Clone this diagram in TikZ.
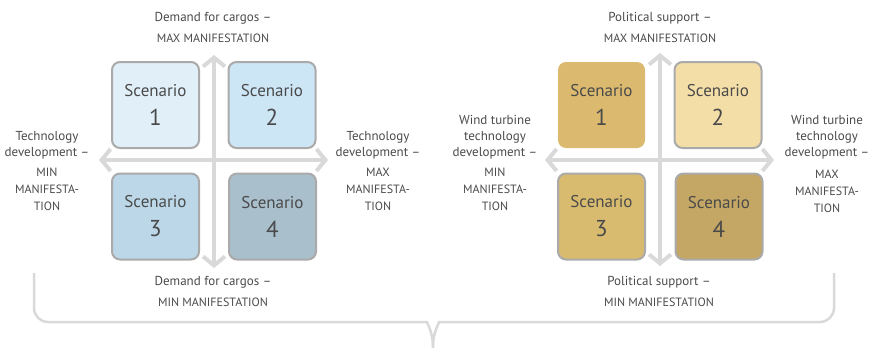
\documentclass[tikz,border=0pt]{standalone}
\usepackage{fontspec}
\setmainfont{PT Sans}
\usetikzlibrary{arrows.meta}
\definecolor{txt}{HTML}{4A4A4A}
\definecolor{axis}{HTML}{D9D9D9}
\definecolor{frame}{HTML}{AAAAAA}
\definecolor{bA}{HTML}{E1EFF8}
\definecolor{bB}{HTML}{CDE6F6}
\definecolor{bC}{HTML}{BCD7E8}
\definecolor{bD}{HTML}{A9BFCC}
\definecolor{gA}{HTML}{DBBA6F}
\definecolor{gB}{HTML}{F4DEA8}
\definecolor{gC}{HTML}{D9BB70}
\definecolor{gD}{HTML}{C4A765}
\newcommand{\scnum}[1]{{\fontsize{23}{29}\selectfont #1}}
\tikzset{
  x=1pt, y=-1pt,
  scen/.style={minimum width=87pt, minimum height=86pt, rounded corners=8pt,
    draw=frame, line width=2pt, align=center, text=txt,
    font=\fontsize{17}{29}\selectfont, inner sep=0pt},
  nofr/.style={draw=none},
  axisarrow/.style={draw=axis, line width=4pt,
    {Straight Barb[length=9pt,width=22pt]}-{Straight Barb[length=9pt,width=22pt]}},
  lbl/.style={align=center, text=txt, font=\fontsize{13}{16}\selectfont, inner sep=0pt},
  caps/.style={align=center, text=txt, font=\fontsize{12}{17}\selectfont, inner sep=0pt},
  bracelink/.style={draw=axis, line width=2.5pt}
}
\begin{document}
\begin{tikzpicture}
\useasboundingbox (0,0) rectangle (872,348);
% ---------- left panel ----------
\coordinate (LvT) at (214,55);
\coordinate (LvB) at (214,268);
\coordinate (LhL) at (99,160);
\coordinate (LhR) at (328,160);
\draw[axisarrow] (LvB) -- (LvT);
\draw[axisarrow] (LhL) -- (LhR);
\node[scen, fill=bA] (L1) at (155.5,105) {Scenario\\\scnum{1}};
\node[scen, fill=bB] (L2) at (272,105) {Scenario\\\scnum{2}};
\node[scen, fill=bC] (L3) at (155.5,216.5) {Scenario\\\scnum{3}};
\node[scen, fill=bD] (L4) at (272.5,216.5) {Scenario\\\scnum{4}};
\node[lbl] (LtopA) at (213,18) {Demand for cargos –};
\node[caps] (LtopB) at (213,38) {MAX MANIFESTATION};
\node[lbl] (LbotA) at (213,282) {Demand for cargos –};
\node[caps] (LbotB) at (213,302) {MIN MANIFESTATION};
\node[lbl] (LlA) at (47,145) {Technology\\development –};
\node[caps] (LlB) at (47,189) {MIN\\MANIFESTA-\\TION};
\node[lbl] (LrA) at (378,145) {Technology\\development –};
\node[caps] (LrB) at (378,189) {MAX\\MANIFESTA-\\TION};
% ---------- right panel ----------
\coordinate (RvT) at (660,53);
\coordinate (RvB) at (660,266);
\coordinate (RhL) at (545,160);
\coordinate (RhR) at (774,160);
\draw[axisarrow] (RvB) -- (RvT);
\draw[axisarrow] (RhL) -- (RhR);
\node[scen, nofr, fill=gA] (R1) at (601.5,105) {Scenario\\\scnum{1}};
\node[scen, fill=gB] (R2) at (718,105) {Scenario\\\scnum{2}};
\node[scen, fill=gC] (R3) at (601.5,216.5) {Scenario\\\scnum{3}};
\node[scen, fill=gD] (R4) at (719,216.5) {Scenario\\\scnum{4}};
\node[lbl] (RtopA) at (660,18) {Political support –};
\node[caps] (RtopB) at (660,38) {MAX MANIFESTATION};
\node[lbl] (RbotA) at (659,282) {Political support –};
\node[caps] (RbotB) at (659,302) {MIN MANIFESTATION};
\node[lbl] (RlA) at (495,137) {Wind turbine\\technology\\development –};
\node[caps] (RlB) at (495,189) {MIN\\MANIFESTA-\\TION};
\node[lbl] (RrA) at (827,137) {Wind turbine\\technology\\development –};
\node[caps] (RrB) at (827,191.5) {MAX\\MANIFESTA-\\TION};
% ---------- brace ----------
\coordinate (BL) at (34,273);
\coordinate (BR) at (834,273);
\coordinate (Btip) at (433,348);
\draw[bracelink] (BL) [rounded corners=14pt] |- (413,322) [sharp corners]
  .. controls (426,322) and (433,330) .. (Btip);
\draw[bracelink] (BR) [rounded corners=14pt] |- (453,322) [sharp corners]
  .. controls (440,322) and (433,330) .. (Btip);
\end{tikzpicture}
\end{document}
